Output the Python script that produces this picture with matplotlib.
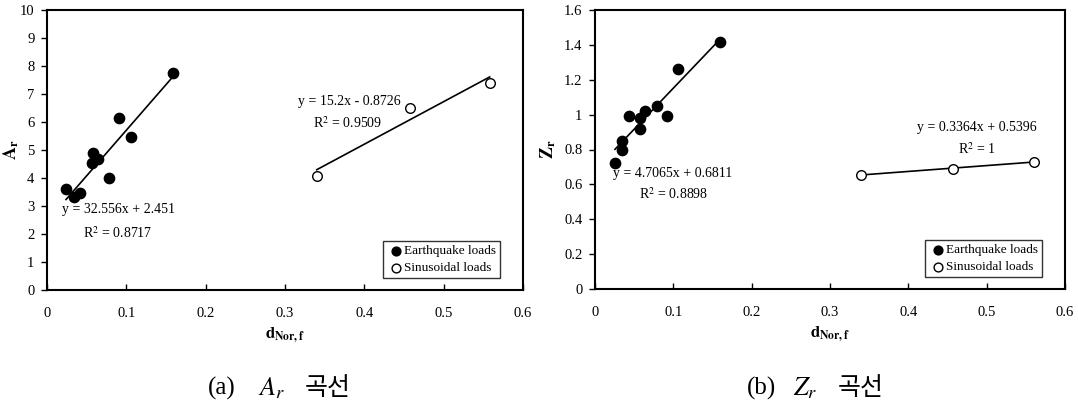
import numpy as np
import matplotlib
matplotlib.use("Agg")
import matplotlib.pyplot as plt

plt.rcParams['font.family'] = ['Liberation Serif', 'Noto Sans CJK KR']
plt.rcParams['mathtext.fontset'] = 'stix'

# (a) A_r
eq_x_a = [0.024, 0.034, 0.042, 0.058, 0.057, 0.064, 0.078, 0.091, 0.106, 0.159]
eq_y_a = [3.60, 3.31, 3.48, 4.90, 4.52, 4.69, 3.99, 6.15, 5.46, 7.74]
sin_x_a = [0.340, 0.457, 0.558]
sin_y_a = [4.08, 6.51, 7.40]
fit_eq_a = (32.556, 2.451)
fit_sin_a = (15.2, -0.8726)

# (b) Z_r
eq_x_b = [0.0255, 0.034, 0.034, 0.043, 0.057, 0.057, 0.064, 0.079, 0.0915, 0.106, 0.160]
eq_y_b = [0.722, 0.799, 0.847, 0.990, 0.918, 0.981, 1.023, 1.052, 0.990, 1.259, 1.418]
sin_x_b = [0.340, 0.457, 0.561]
sin_y_b = [0.655, 0.690, 0.726]
fit_eq_b = (4.7065, 0.6811)
fit_sin_b = (0.3364, 0.5396)

W, H = 1078, 405
fig = plt.figure(figsize=(W / 100, H / 100), dpi=100)


def px_axes(x0, x1, y0, y1):
    return fig.add_axes([x0 / W, 1 - y1 / H, (x1 - x0) / W, (y1 - y0) / H])


def fit_line(ax, xs, coef):
    xx = np.array([min(xs), max(xs)])
    ax.plot(xx, coef[0] * xx + coef[1], color='black', lw=1.2, zorder=2)


def panel(ax, ex, ey, sx, sy, feq, fsin, ymax, ystep, ylabel, ylab_x):
    fit_line(ax, ex, feq)
    fit_line(ax, sx, fsin)
    ax.scatter(ex, ey, s=55, color='black', zorder=3, label='Earthquake loads')
    ax.scatter(sx, sy, s=48, facecolor='white', edgecolor='black', lw=1.0,
               zorder=3, label='Sinusoidal loads')
    ax.set_xlim(0, 0.6)
    ax.set_ylim(0, ymax)
    ax.set_xticks(np.arange(0, 0.61, 0.1))
    ax.set_xticklabels(['0', '0.1', '0.2', '0.3', '0.4', '0.5', '0.6'])
    ax.set_yticks(np.arange(0, ymax + 1e-9, ystep))
    ax.tick_params(axis='x', direction='in', length=4, width=1, pad=12, labelsize=10.5)
    ax.tick_params(axis='y', direction='out', length=4, width=1, pad=5, labelsize=10.5)
    for sp in ax.spines.values():
        sp.set_linewidth(1.5)
    ax.set_xlabel(r'$\mathbf{d_{Nor,f}}$', fontsize=12, labelpad=4)
    ax.set_ylabel(ylabel, fontsize=13)
    ax.yaxis.set_label_coords(ylab_x, 0.5)
    leg = ax.legend(loc='lower right', bbox_to_anchor=(0.952, 0.043), fontsize=9.5,
                    frameon=True, fancybox=False, edgecolor='black', borderpad=0.3,
                    handletextpad=0.0, handlelength=1.3, labelspacing=0.35,
                    borderaxespad=0)
    leg.get_frame().set_linewidth(1.0)
    for h in leg.legend_handles:
        h.set_sizes([40])


ax1 = px_axes(47, 523, 10, 290)
panel(ax1, eq_x_a, eq_y_a, sin_x_a, sin_y_a, fit_eq_a, fit_sin_a, 10, 1,
      r'$\mathbf{A_r}$', -0.055)
ax1.set_yticklabels([str(v) for v in range(11)])
ax1.text(0.019, 2.86, 'y = 32.556x + 2.451', fontsize=10, va='center', ha='left')
ax1.text(0.0895, 2.03, r'R$^2$ = 0.8717', fontsize=10, va='center', ha='center')
ax1.text(0.381, 6.72, 'y = 15.2x - 0.8726', fontsize=10, va='center', ha='center')
ax1.text(0.379, 5.96, r'R$^2$ = 0.9509', fontsize=10, va='center', ha='center')

ax2 = px_axes(595, 1065, 10, 289)
panel(ax2, eq_x_b, eq_y_b, sin_x_b, sin_y_b, fit_eq_b, fit_sin_b, 1.6, 0.2,
      r'$\mathbf{Z_r}$', -0.079)
ax2.set_yticklabels(['0', '0.2', '0.4', '0.6', '0.8', '1', '1.2', '1.4', '1.6'])
ax2.text(0.023, 0.665, 'y = 4.7065x + 0.6811', fontsize=10, va='center', ha='left')
ax2.text(0.101, 0.544, r'R$^2$ = 0.8898', fontsize=10, va='center', ha='center')
ax2.text(0.487, 0.924, 'y = 0.3364x + 0.5396', fontsize=10, va='center', ha='center')
ax2.text(0.487, 0.80, r'R$^2$ = 1', fontsize=10, va='center', ha='center')

# captions
cy = 1 - 388 / H
for x0, lab, xa, mlab, xk in [(208, '(a)', 258, r'$A_r$', 305),
                              (747, '(b)', 793, r'$Z_r$', 838)]:
    fig.text(x0 / W, cy, lab, fontsize=18, ha='left', va='center')
    fig.text(xa / W, cy, mlab, fontsize=19, ha='left', va='center')
    fig.text(xk / W, cy, '곡선', fontsize=18, ha='left', va='center',
             family=['Noto Sans CJK KR'])

fig.savefig('out.png', dpi=100)
